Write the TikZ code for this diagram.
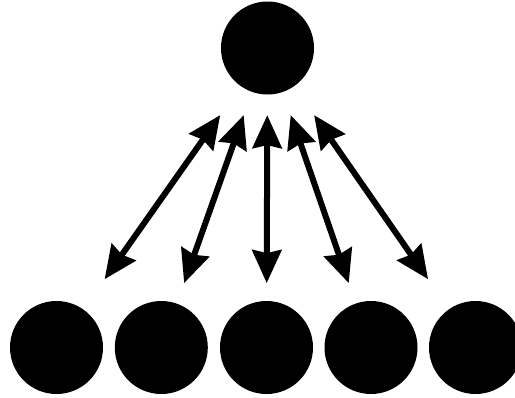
\documentclass[tikz,border=0pt]{standalone}
\usepackage{tikz}
\usetikzlibrary{calc,arrows.meta}

\tikzset{
    dot/.style={circle, fill=black, minimum size=93pt, inner sep=0pt},
    link/.style={line width=6pt, {Stealth[length=33pt, width=29pt, inset=3pt]}-{Stealth[length=33pt, width=29pt, inset=3pt]}}
}

\begin{document}
\begin{tikzpicture}[x=1pt, y=-1pt]
        % Frame
        \useasboundingbox (0, 0) rectangle (515, 397);

        % ----------------------------------------------------
        % TOP — HUB
        % ----------------------------------------------------
        \node[dot] (hub) at (267.5, 48) {};

        % ----------------------------------------------------
        % BOTTOM — MEMBERS
        % ----------------------------------------------------
        \node[dot] (m1) at (56.5, 347.5) {};
        \node[dot] (m2) at (161.3, 347.5) {};
        \node[dot] (m3) at (266.5, 347.5) {};
        \node[dot] (m4) at (371, 347.5) {};
        \node[dot] (m5) at (475.5, 347.5) {};

        % ----------------------------------------------------
        % TWO-WAY LINKS
        % ----------------------------------------------------
        \foreach \m/\f in {m1/0.772, m2/0.785, m3/0.785, m4/0.785, m5/0.772} {
            \draw[link] ($(hub)!0.224!(\m)$) -- ($(hub)!\f!(\m)$);
        }
    \end{tikzpicture}
\end{document}
